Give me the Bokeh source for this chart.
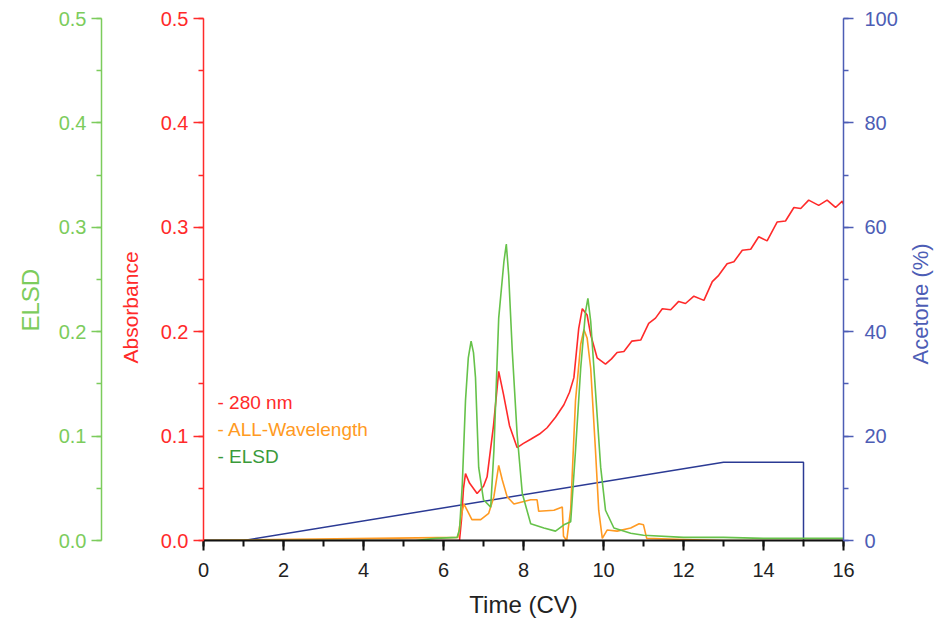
import math
from bokeh.plotting import figure
from bokeh.layouts import row
from bokeh.models import (LinearAxis, Range1d, SingleIntervalTicker, PrintfTickFormatter,
                          Label, Title)
from bokeh.embed import file_html
from bokeh.resources import INLINE

# ---- data ----
t_abs = [0, 6.40, 6.45, 6.50, 6.55, 6.65, 6.84, 7.00, 7.09, 7.25, 7.38, 7.50, 7.65, 7.84,
         8.00, 8.18, 8.40, 8.59, 8.80, 9.01, 9.15, 9.26, 9.38, 9.47, 9.59, 9.68, 9.84,
         10.05, 10.20, 10.34, 10.51, 10.71, 10.93, 11.13, 11.30, 11.47, 11.68, 11.88,
         12.05, 12.26, 12.51, 12.72, 12.88, 13.09, 13.26, 13.47, 13.68, 13.88, 14.09,
         14.34, 14.55, 14.76, 14.93, 15.13, 15.38, 15.59, 15.80, 15.97, 16.0]
abs_280 = [0, 0.0, 0.02, 0.05, 0.064, 0.055, 0.045, 0.052, 0.061, 0.110, 0.162, 0.140,
           0.110, 0.089, 0.093, 0.097, 0.102, 0.108, 0.118, 0.130, 0.142, 0.156, 0.203,
           0.222, 0.216, 0.197, 0.175, 0.169, 0.174, 0.180, 0.181, 0.191, 0.192, 0.208,
           0.213, 0.222, 0.221, 0.229, 0.227, 0.234, 0.230, 0.248, 0.254, 0.265, 0.267,
           0.278, 0.279, 0.291, 0.287, 0.305, 0.306, 0.319, 0.318, 0.326, 0.321, 0.326,
           0.319, 0.325, 0.322]

t_all = [0, 6.36, 6.45, 6.51, 6.59, 6.71, 6.93, 7.13, 7.26, 7.38, 7.47, 7.59, 7.76, 8.18,
         8.34, 8.38, 8.76, 8.97, 9.00, 9.08, 9.18, 9.30, 9.43, 9.51, 9.59, 9.68, 9.80,
         9.88, 9.97, 10.09, 10.34, 10.68, 10.89, 11.00, 11.08, 12.0, 13.0, 16.0]
all_wl = [0, 0.003, 0.025, 0.035, 0.029, 0.020, 0.020, 0.026, 0.042, 0.072, 0.058, 0.042,
          0.035, 0.039, 0.039, 0.028, 0.029, 0.032, 0.004, 0.0, 0.030, 0.134, 0.188, 0.202,
          0.194, 0.165, 0.086, 0.029, 0.002, 0.010, 0.009, 0.012, 0.016, 0.015, 0.002,
          0.001, 0.0, 0.0]

t_elsd = [0, 5.30, 5.80, 6.34, 6.40, 6.47, 6.55, 6.62, 6.69, 6.75, 6.80, 6.88, 7.00, 7.18,
          7.26, 7.38, 7.51, 7.57, 7.63, 7.72, 7.84, 7.97, 8.18, 8.51, 8.80, 9.01, 9.18,
          9.30, 9.43, 9.55, 9.61, 9.68, 9.80, 9.93, 10.05, 10.26, 10.68, 11.0, 12.0, 13.0,
          14.0, 15.0, 16.0]
elsd = [0, 0.0, 0.002, 0.003, 0.010, 0.054, 0.134, 0.175, 0.191, 0.180, 0.156, 0.070,
        0.039, 0.032, 0.086, 0.213, 0.267, 0.284, 0.254, 0.181, 0.102, 0.045, 0.016, 0.012,
        0.009, 0.015, 0.018, 0.086, 0.165, 0.219, 0.232, 0.210, 0.143, 0.070, 0.029, 0.012,
        0.007, 0.005, 0.003, 0.003, 0.002, 0.002, 0.002]

t_grad = [0, 1.0, 13.0, 15.0, 15.0, 16.0]
acetone = [0, 0, 15, 15, 0, 0]

legend_items = ["- 280 nm", "- ALL-Wavelength", "- ELSD"]
legend_y = [0.132, 0.106, 0.080]

RED = "#ff2a2a"
ORANGE = "#ff9a22"
GREEN = "#66c24a"
GREEN_AX = "#7ccc5c"
GREEN_TXT = "#3a9a3a"
NAVY = "#2b3a94"
BLUE_AX = "#4d5db5"
FONT = "Liberation Sans"

H = 620
p = figure(width=900, height=H, x_range=Range1d(0, 16), y_range=Range1d(0, 0.5),
           output_backend="svg", toolbar_location=None,
           min_border_left=203, min_border_right=57, min_border_top=18, min_border_bottom=76)
p.extra_y_ranges = {"acetone": Range1d(0, 100), "elsd": Range1d(0, 0.5)}
p.grid.visible = False
p.outline_line_color = None


def style_axis(ax, color, label_color):
    ax.axis_line_color = color
    ax.axis_line_width = 1.5
    ax.major_tick_line_color = color
    ax.minor_tick_line_color = color
    ax.major_tick_line_width = 1.5
    ax.minor_tick_line_width = 1.5
    ax.major_tick_in = 0
    ax.major_tick_out = 10
    ax.minor_tick_in = 0
    ax.minor_tick_out = 5
    ax.major_label_text_color = label_color
    ax.major_label_text_font = FONT
    ax.major_label_text_font_size = "20px"
    ax.axis_label_text_font = FONT
    ax.axis_label_text_font_size = "22px"
    ax.axis_label_text_font_style = "normal"
    ax.axis_label_text_color = label_color


def side_title(text, color, size, standoff, offset):
    return Title(text=text, align="left", offset=offset, standoff=standoff,
                 text_font=FONT, text_font_size=size, text_font_style="normal",
                 text_color=color)


# red absorbance axis (inner left)
ya = p.yaxis[0]
ya.ticker = SingleIntervalTicker(interval=0.1, num_minor_ticks=2)
ya.formatter = PrintfTickFormatter(format="%.1f")
style_axis(ya, RED, RED)
ya.major_label_standoff = 5

p.add_layout(side_title("Absorbance", RED, "21px", 31, 177), "left")

# green ELSD axis (outer left)
ye = LinearAxis(y_range_name="elsd", ticker=SingleIntervalTicker(interval=0.1, num_minor_ticks=2),
                formatter=PrintfTickFormatter(format="%.1f"))
style_axis(ye, GREEN_AX, GREEN_AX)
ye.major_label_standoff = 5
p.add_layout(ye, "left")

p.add_layout(side_title("ELSD", GREEN_AX, "24px", 24, 209), "left")

# right acetone axis
yr = LinearAxis(y_range_name="acetone", ticker=SingleIntervalTicker(interval=20, num_minor_ticks=2))
style_axis(yr, BLUE_AX, BLUE_AX)
yr.major_label_standoff = 11
p.add_layout(yr, "right")

# x axis
xa = p.xaxis[0]
xa.ticker = SingleIntervalTicker(interval=2, num_minor_ticks=2)
style_axis(xa, "#111111", "#222222")
xa.axis_line_width = 2
xa.major_tick_line_width = 2
xa.minor_tick_line_width = 2
xa.minor_tick_out = 6
xa.major_label_standoff = 12
xa.axis_label = "Time (CV)"
xa.axis_label_text_font_size = "24px"
xa.axis_label_standoff = 11

# traces
p.line(t_grad, acetone, y_range_name="acetone", line_color=NAVY, line_width=1.5)
p.line(t_abs, abs_280, line_color=RED, line_width=1.6)
p.line(t_all, all_wl, line_color=ORANGE, line_width=1.6)
p.line(t_elsd, elsd, y_range_name="elsd", line_color=GREEN, line_width=1.6)

for txt, yy, col in zip(legend_items, legend_y, [RED, ORANGE, GREEN_TXT]):
    p.add_layout(Label(x=0.35, y=yy, text=txt, text_color=col, text_font=FONT,
                       text_font_size="19px", text_baseline="middle", text_align="left"))

# narrow companion panel holding the right-hand axis title (reads bottom to top)
p2 = figure(width=40, height=H, x_range=Range1d(0, 1), y_range=Range1d(0, H),
            output_backend="svg", toolbar_location=None,
            x_axis_location=None, y_axis_location=None,
            min_border_left=0, min_border_right=0, min_border_top=0, min_border_bottom=0)
p2.grid.visible = False
p2.outline_line_color = None
p2.add_layout(Label(x=0.5, y=H - 339, text="Acetone (%)", angle=math.pi / 2,
                    text_color=BLUE_AX, text_font=FONT, text_font_size="22px",
                    text_align="center", text_baseline="middle"))

open("out.html", "w").write(file_html(row(p, p2), INLINE))
